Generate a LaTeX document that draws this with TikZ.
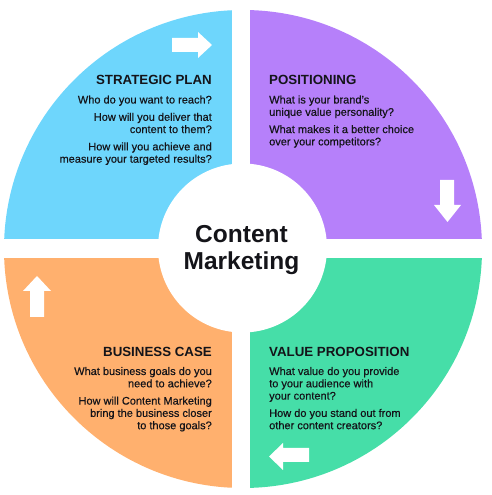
\documentclass[tikz,border=0pt]{standalone}
\usepackage{fontspec}
\setmainfont{Liberation Sans}
\newfontfamily\questfont[FakeBold=0.4]{Liberation Sans}
\usetikzlibrary{positioning}
\definecolor{skyq}{RGB}{110,214,252}
\definecolor{violetq}{RGB}{182,128,250}
\definecolor{peachq}{RGB}{255,176,110}
\definecolor{mintq}{RGB}{70,222,168}
\definecolor{ink}{RGB}{20,20,25}
\tikzstyle{heading} = [inner sep=0, text=ink, font=\fontsize{13.3}{16}\selectfont\bfseries]
\tikzstyle{questions} = [inner sep=0, text=ink, font=\questfont\fontsize{11}{12.3}\selectfont]
\tikzstyle{hint} = [fill=white, draw=none]

\begin{document}
\begin{tikzpicture}[x=1pt,y=1pt]
\useasboundingbox (0,0) rectangle (492,495);

% quadrants
\coordinate (mid) at (243,246);
\begin{scope}
\clip (mid) circle (239pt);
\fill[skyq] (0,256) rectangle (232,495);
\fill[violetq] (250,256) rectangle (492,495);
\fill[peachq] (0,0) rectangle (232,237);
\fill[mintq] (250,0) rectangle (492,237);
\end{scope}

% hub
\node [circle, fill=white, inner sep=0, minimum size=169pt] (hub) at (242.5,247) {};
\node [inner sep=0, text=ink, align=center, anchor=north,
    font=\fontsize{24.5}{27.5}\selectfont\bfseries] (hub_text) at (241.5,270) {Content\\Marketing};

% block arrows
\fill [hint] (172,457) -- (198,457) -- (198,463) -- (212,450) -- (198,437) -- (198,443) -- (172,443) -- cycle;
\fill [hint] (440,315) -- (454,315) -- (454,290) -- (461,290) -- (447.5,273) -- (434,290) -- (440,290) -- cycle;
\fill [hint] (30,178) -- (44,178) -- (44,204) -- (51,204) -- (37,219) -- (23,204) -- (30,204) -- cycle;
\fill [hint] (309,47) -- (283,47) -- (283,52) -- (269,38.5) -- (283,25) -- (283,33) -- (309,33) -- cycle;

% strategic plan
\node [heading, anchor=north east] (sp_head) at (212,419.5) {STRATEGIC PLAN};
\node [questions, align=right, below=10pt of sp_head.south east, anchor=north east] (sp_q)
    {Who do you want to reach?\\[5pt]How will you deliver that\\content to them?\\[5pt]How will you achieve and\\measure your targeted results?};

% positioning
\node [heading, anchor=north west] (pos_head) at (269,419.5) {POSITIONING};
\node [questions, align=left, below=10pt of pos_head.south west, anchor=north west] (pos_q)
    {What is your brand’s\\unique value personality?\\[5pt]What makes it a better choice\\over your competitors?};

% business case
\node [heading, anchor=north east] (bc_head) at (212,148) {BUSINESS CASE};
\node [questions, align=right, below=10pt of bc_head.south east, anchor=north east] (bc_q)
    {What business goals do you\\need to achieve?\\[5pt]How will Content Marketing\\bring the business closer\\to those goals?};

% value proposition
\node [heading, anchor=north west] (vp_head) at (269,148) {VALUE PROPOSITION};
\node [questions, align=left, below=10pt of vp_head.south west, anchor=north west] (vp_q)
    {What value do you provide\\to your audience with\\your content?\\[5pt]How do you stand out from\\other content creators?};

\end{tikzpicture}
\end{document}
